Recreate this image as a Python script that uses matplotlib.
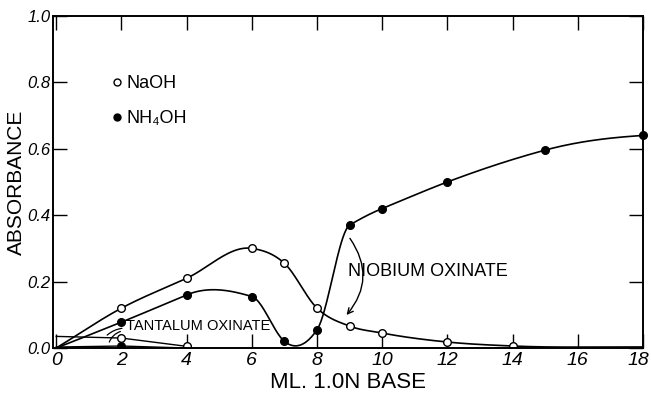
import numpy as np
import matplotlib
matplotlib.use("Agg")
import matplotlib.pyplot as plt
from matplotlib.lines import Line2D
from matplotlib.transforms import offset_copy

plt.rcParams['font.family'] = ['Liberation Sans', 'DejaVu Sans']

# niobium oxinate, NaOH (open circles); line starts at the origin
nb_naoh_x = [0, 2, 4, 6, 7, 8, 9, 10, 12, 14, 18]
nb_naoh_y = [0.0, 0.12, 0.21, 0.30, 0.255, 0.12, 0.066, 0.045, 0.018, 0.006, 0.003]

# niobium oxinate, NH4OH (filled circles)
nb_nh4_x = [0, 2, 4, 6, 7, 8, 9, 10, 12, 15, 18]
nb_nh4_y = [0.0, 0.078, 0.16, 0.155, 0.02, 0.055, 0.37, 0.42, 0.50, 0.596, 0.64]

# tantalum oxinate
ta_naoh_x = [0, 2, 4]
ta_naoh_y = [0.035, 0.03, 0.005]
ta_nh4_x = [0, 2, 4]
ta_nh4_y = [0.003, 0.006, 0.0]

xticks = [0, 2, 4, 6, 8, 10, 12, 14, 16, 18]
yticks = [0.0, 0.2, 0.4, 0.6, 0.8, 1.0]
ytick_labels = ['0.0', '0.2', '0.4', '0.6', '0.8', '1.0']


def grad_slopes(x, y):
    return np.gradient(y, x, edge_order=1)


def akima_slopes(x, y):
    n = len(x)
    d = np.diff(y) / np.diff(x)
    ext = np.concatenate([[3 * d[0] - 2 * d[1], 2 * d[0] - d[1]], d,
                          [2 * d[-1] - d[-2], 3 * d[-1] - 2 * d[-2]]])
    ll, l, r, rr = ext[:n], ext[1:n + 1], ext[2:n + 2], ext[3:n + 3]
    w1 = np.abs(rr - r)
    w2 = np.abs(l - ll)
    tot = w1 + w2
    m = np.where(tot > 1e-12, (w1 * l + w2 * r) / np.where(tot > 1e-12, tot, 1), (l + r) / 2)
    return m


def smooth(x, y, slopes, n=40):
    # cubic hermite through the points
    x = np.asarray(x, float)
    y = np.asarray(y, float)
    m = slopes(x, y)
    xs, ys = [], []
    for i in range(len(x) - 1):
        h = x[i + 1] - x[i]
        t = np.linspace(0, 1, n, endpoint=False)
        h00 = 2 * t**3 - 3 * t**2 + 1
        h10 = t**3 - 2 * t**2 + t
        h01 = -2 * t**3 + 3 * t**2
        h11 = t**3 - t**2
        xs.append(x[i] + t * h)
        ys.append(h00 * y[i] + h10 * h * m[i] + h01 * y[i + 1] + h11 * h * m[i + 1])
    xs.append([x[-1]])
    ys.append([y[-1]])
    return np.concatenate(xs), np.concatenate(ys)


fig = plt.figure(figsize=(6.51, 3.98), dpi=100)
ax = fig.add_axes([0.0814, 0.1256, 0.9063, 0.8344])

lw = 1.2
sx, sy = smooth(nb_naoh_x, nb_naoh_y, grad_slopes)
ax.plot(sx, sy, color='black', lw=lw)
ax.plot(nb_naoh_x[1:-1], nb_naoh_y[1:-1], 'o', mfc='white', mec='black', mew=1.0, ms=5.5)

sx, sy = smooth(nb_nh4_x, nb_nh4_y, akima_slopes)
ax.plot(sx, sy, color='black', lw=lw)
ax.plot(nb_nh4_x[1:], nb_nh4_y[1:], 'o', color='black', ms=5.5, clip_on=False)

ax.plot(ta_naoh_x, ta_naoh_y, color='black', lw=1.0)
ax.plot(ta_naoh_x[1:], ta_naoh_y[1:], 'o', mfc='white', mec='black', mew=1.0, ms=5.5)
ax.plot(ta_nh4_x, ta_nh4_y, color='black', lw=1.0)
ax.plot(ta_nh4_x[1:2], ta_nh4_y[1:2], 'o', color='black', ms=5.5)

ax.set_xlim(-0.1, 18)
ax.set_ylim(0, 1.0)
ax.set_xticks(xticks)
ax.set_yticks(yticks)
ax.set_yticklabels(ytick_labels)
ax.tick_params(direction='in', top=True, right=True, length=10, width=1.0, pad=3)
ax.tick_params(axis='x', labelsize=14)
ax.tick_params(axis='y', labelsize=12, pad=2)
for lab in ax.get_xticklabels() + ax.get_yticklabels():
    lab.set_fontstyle('italic')
# keep the last x label inside the figure
last = ax.get_xticklabels()[-1]
last.set_transform(offset_copy(last.get_transform(), fig=fig, x=-5, units='dots'))
for s in ax.spines.values():
    s.set_linewidth(1.4)

ax.set_xlabel('ML. 1.0N BASE', fontsize=16, labelpad=2)
ax.set_ylabel('ABSORBANCE', fontsize=15)
ax.yaxis.set_label_coords(-0.045, 0.5)

handles = [Line2D([], [], ls='none', marker='o', mfc='white', mec='black', mew=1.0, ms=5),
           Line2D([], [], ls='none', marker='o', color='black', ms=5)]
ax.legend(handles, ['NaOH', 'NH₄OH'], loc='upper left', bbox_to_anchor=(0.10, 0.822),
          frameon=False, fontsize=13, handlelength=0.5, handletextpad=0.3,
          labelspacing=1.0, borderpad=0, borderaxespad=0)

ax.text(2.15, 0.066, 'TANTALUM OXINATE', fontsize=10.5, ha='left', va='center')
ax.annotate('', xy=(1.5, 0.033), xytext=(2.1, 0.06),
            arrowprops=dict(arrowstyle='-', lw=0.9, connectionstyle='arc3,rad=0.2'))
ax.annotate('', xy=(1.6, 0.01), xytext=(2.05, 0.052),
            arrowprops=dict(arrowstyle='-', lw=0.9, connectionstyle='arc3,rad=0.3'))

ax.text(8.95, 0.23, 'NIOBIUM OXINATE', fontsize=13, ha='left', va='center')
ax.annotate('', xy=(8.85, 0.093), xytext=(8.96, 0.337),
            arrowprops=dict(arrowstyle='->', lw=1.0, connectionstyle='arc3,rad=-0.4'))

fig.savefig('out.png', dpi=100)
